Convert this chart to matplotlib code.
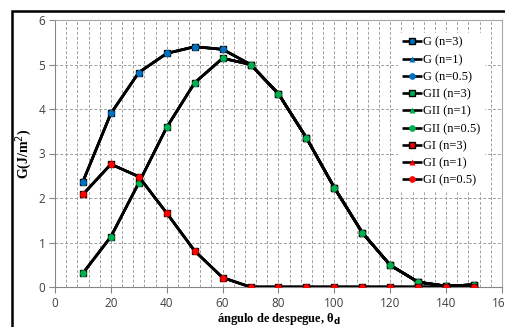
import matplotlib
matplotlib.use("Agg")
import matplotlib.pyplot as plt
from matplotlib.patches import Rectangle
from matplotlib.ticker import MultipleLocator

angles = [10, 20, 30, 40, 50, 60, 70, 80, 90, 100, 110, 120, 130, 140, 150]
G_vals = [2.37, 3.90, 4.82, 5.25, 5.40, 5.34, 5.00, 4.34, 3.35, 2.23, 1.22, 0.49, 0.11, 0.02, 0.05]
GII_vals = [0.31, 1.13, 2.34, 3.59, 4.59, 5.14, 5.00, 4.34, 3.35, 2.23, 1.22, 0.49, 0.11, 0.02, 0.05]
GI_vals = [2.08, 2.76, 2.48, 1.66, 0.81, 0.21, 0.0, 0.0, 0.0, 0.0, 0.0, 0.0, 0.0, 0.0, 0.0]

n_labels = ["n=3", "n=1", "n=0.5"]
groups = ["G", "GII", "GI"]
group_colors = {"G": "#0070C0", "GII": "#00B050", "GI": "#FF0000"}
group_data = {"G": G_vals, "GII": GII_vals, "GI": GI_vals}

x_ticks = [0, 20, 40, 60, 80, 100, 120, 140, 160]
y_ticks = [0, 1, 2, 3, 4, 5, 6]

fig = plt.figure(figsize=(5.06, 3.27), dpi=100)
ax = fig.add_axes([55/506, 40/327, 447/506, 267/327])

marker_styles = [
    dict(marker="s", markersize=5.0, markeredgecolor="black", markeredgewidth=1.0),
    dict(marker="^", markersize=4.5, markeredgecolor="none"),
    dict(marker="o", markersize=4.8, markeredgecolor="none"),
]

for g in groups:
    for lab, ms in zip(n_labels, marker_styles):
        ax.plot(angles, group_data[g], color="black", lw=1.9,
                markerfacecolor=group_colors[g], label=f"{g} ({lab})",
                solid_capstyle="butt", zorder=3, **ms)

ax.set_xlim(0, 160)
ax.set_ylim(0, 6)
ax.set_xticks(x_ticks)
ax.set_yticks(y_ticks)
ax.xaxis.set_minor_locator(MultipleLocator(4))
ax.grid(which="major", axis="y", color="#a0a0a0", ls=(0, (3, 2)), lw=0.7)
ax.grid(which="both", axis="x", color="#a0a0a0", ls=(0, (3, 2)), lw=0.7)
ax.tick_params(which="minor", length=0)
ax.tick_params(which="major", length=4, width=0.8, color="#868686",
               labelsize=8.5, labelcolor="#404040", pad=3)
for lbl in ax.get_xticklabels() + ax.get_yticklabels():
    lbl.set_fontfamily("Open Sans")
for s in ax.spines.values():
    s.set_color("#a6a6a6")
    s.set_linewidth(0.8)
ax.spines["bottom"].set_color("#868686")
ax.spines["left"].set_color("#868686")

ax.set_ylabel("G(J/m$^2$)", fontfamily="Liberation Serif", fontweight="bold",
              fontsize=10, labelpad=3)
ax.set_xlabel(r"ángulo de despegue, θ$_\mathbf{d}$", fontfamily="Liberation Serif",
              fontweight="bold", fontsize=9, labelpad=1)

leg = ax.legend(loc="upper left", bbox_to_anchor=(343/447, 1 - 13/267),
                frameon=True, facecolor="white", edgecolor="white", framealpha=1,
                fancybox=False, prop={"family": "Liberation Serif", "size": 9},
                handlelength=1.6, handletextpad=0.1, labelspacing=0.42,
                borderpad=0.3, borderaxespad=0)
leg.set_zorder(5)

fig.add_artist(Rectangle((12/506, -0.1), 1.2, (327-11)/327 + 0.1,
                         transform=fig.transFigure, fill=False,
                         edgecolor="black", lw=1.8, clip_on=False))

fig.savefig("out.png", dpi=100)
